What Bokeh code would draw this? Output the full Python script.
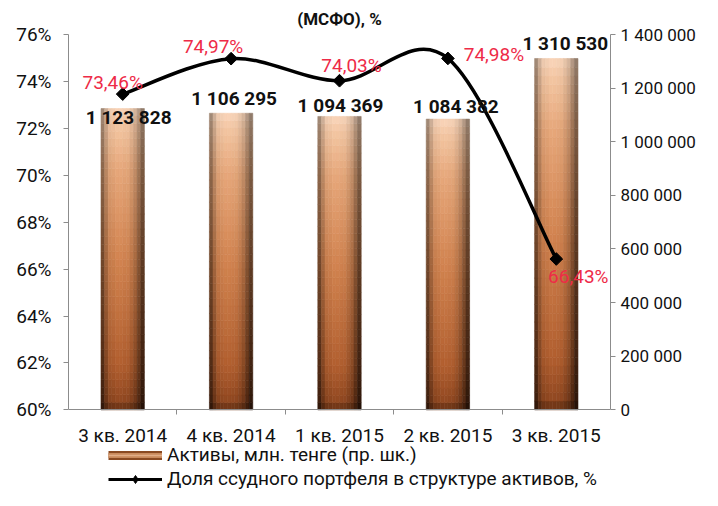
import numpy as np
from bokeh.plotting import figure
from bokeh.models import (Range1d, LinearAxis, FixedTicker, ColumnDataSource,
                          LabelSet, Legend, LegendItem)
from bokeh.embed import file_html
from bokeh.resources import INLINE
from bokeh.core.properties import value

# ---------------- data ----------------
categories = ["3 кв. 2014", "4 кв. 2014", "1 кв. 2015", "2 кв. 2015", "3 кв. 2015"]
assets = [1123828, 1106295, 1094369, 1084382, 1310530]          # right axis
loan_share = [73.46, 74.97, 74.03, 74.98, 66.43]                # left axis, %
left_ticks = [60, 62, 64, 66, 68, 70, 72, 74, 76]
left_tick_labels = ["60%", "62%", "64%", "66%", "68%", "70%", "72%", "74%", "76%"]
right_ticks = [0, 200000, 400000, 600000, 800000, 1000000, 1200000, 1400000]
right_tick_labels = ["0", "200 000", "400 000", "600 000", "800 000",
                     "1 000 000", "1 200 000", "1 400 000"]
title_text = "(МСФО), %"
bar_legend = "Активы, млн. тенге (пр. шк.)"
line_legend = "Доля ссудного портфеля в структуре активов, %"

# ---------------- layout / style constants ----------------
FONT = "Roboto"
W, H = 702, 490
LEFT_PX, RIGHT_PX = 68, 610   # frame left / right edge (px)
TOP = 32                      # frame top (px)
AXIS_Y = 409                  # pixel row of the x axis (60% / 0)
PLOT_PX = AXIS_Y - TOP
LEFT_MIN, LEFT_MAX = 60, 76
RIGHT_MIN, RIGHT_MAX = 0, 1400000
# the frame reaches the bottom of the canvas so the legend can live inside it
left_start = LEFT_MIN - (H - AXIS_Y) * (LEFT_MAX - LEFT_MIN) / PLOT_PX
right_start = RIGHT_MIN - (H - AXIS_Y) * (RIGHT_MAX - RIGHT_MIN) / PLOT_PX

bar_label_dx = [6, 3, 1, 8, 9]
bar_label_dy = [-9, 15, 11, 13, 15]
pct_label_dx = [-10, -18, 12, 46, 22]
pct_label_dy = [12, 12, 15, 4, -17]
BAR_W = 0.4
AXIS_COLOR = "#8c8c8c"

p = figure(width=W, height=H, x_range=Range1d(-0.5, 4.5),
           y_range=Range1d(left_start, LEFT_MAX),
           output_backend="svg", toolbar_location=None,
           min_border_left=LEFT_PX, min_border_right=W - RIGHT_PX,
           min_border_top=TOP, min_border_bottom=0,
           background_fill_color="white", border_fill_color="white", outline_line_color=None)
p.extra_y_ranges = {"right": Range1d(right_start, RIGHT_MAX)}
p.xgrid.visible = False
p.ygrid.visible = False

# title (the visible last line of the source title)
p.title.text = title_text
p.title.align = "center"
p.title.offset = 10
p.title.standoff = 12
p.title.text_font = FONT
p.title.text_font_size = "17px"
p.title.text_font_style = "bold"
p.title.text_color = "#111111"

# x axis, pinned at the 60% line
xa = p.xaxis[0]
xa.fixed_location = LEFT_MIN
xa.ticker = FixedTicker(ticks=list(range(len(categories))),
                        minor_ticks=[i + 0.5 for i in range(len(categories) - 1)])
xa.major_label_overrides = {i: c for i, c in enumerate(categories)}
xa.major_tick_line_color = None
xa.major_tick_in = 0
xa.major_tick_out = 0
xa.minor_tick_in = 0
xa.minor_tick_out = 5
xa.minor_tick_line_color = AXIS_COLOR
xa.axis_line_color = AXIS_COLOR
xa.major_label_text_font = FONT
xa.major_label_text_font_size = "19px"
xa.major_label_text_color = "#111111"
xa.major_label_standoff = 9

# left axis
ya = p.yaxis[0]
ya.bounds = (LEFT_MIN, LEFT_MAX)
ya.ticker = FixedTicker(ticks=left_ticks, minor_ticks=[])
ya.major_label_overrides = {t: l for t, l in zip(left_ticks, left_tick_labels)}
ya.major_tick_in = 0
ya.major_tick_out = 5
ya.major_tick_line_color = AXIS_COLOR
ya.minor_tick_line_color = None
ya.axis_line_color = AXIS_COLOR
ya.major_label_text_font = FONT
ya.major_label_text_font_size = "19px"
ya.major_label_text_color = "#111111"
ya.major_label_standoff = 12

# right axis
ra = LinearAxis(y_range_name="right", ticker=FixedTicker(ticks=right_ticks, minor_ticks=[]),
                bounds=(RIGHT_MIN, RIGHT_MAX))
ra.major_label_overrides = {t: l for t, l in zip(right_ticks, right_tick_labels)}
ra.major_tick_in = 0
ra.major_tick_out = 5
ra.major_tick_line_color = AXIS_COLOR
ra.minor_tick_line_color = None
ra.axis_line_color = AXIS_COLOR
ra.major_label_text_font = FONT
ra.major_label_text_font_size = "17px"
ra.major_label_text_color = "#111111"
ra.major_label_standoff = 5
p.add_layout(ra, "right")

# ---------------- bars with a copper gradient (built from tiles) ----------------
def interp_stops(t, stops):
    ts = [s[0] for s in stops]
    return [np.interp(t, ts, [s[1][ch] for s in stops]) for ch in range(3)]

V_STOPS = [(0.0, (92, 44, 18)), (0.03, (140, 70, 32)), (0.15, (172, 92, 46)),
           (0.5, (204, 128, 78)), (0.8, (225, 164, 120)), (0.95, (238, 194, 160)),
           (1.0, (244, 210, 184))]
H_STOPS = [(0.0, 0.30), (0.07, 0.55), (0.18, 0.95), (0.4, 1.05), (0.65, 1.0),
           (0.8, 0.78), (0.92, 0.45), (1.0, 0.22)]

def shade(u, v):
    base = interp_stops(v, V_STOPS)
    m = np.interp(u, [s[0] for s in H_STOPS], [s[1] for s in H_STOPS])
    m = 1 - (1 - m) * (0.6 + 0.4 * (1 - v))
    r, g, b = [int(max(0, min(255, c * m))) for c in base]
    return "#%02x%02x%02x" % (r, g, b)

NX, NY = 12, 40
L, R, B, T, C = [], [], [], [], []
for i, a in enumerate(assets):
    for j in range(NX):
        for k in range(NY):
            L.append(i - BAR_W / 2 + BAR_W * j / NX)
            R.append(i - BAR_W / 2 + BAR_W * (j + 1) / NX)
            B.append(a * k / NY)
            T.append(a * (k + 1) / NY)
            C.append(shade((j + 0.5) / NX, (k + 0.5) / NY))
p.quad(left=L, right=R, bottom=B, top=T, fill_color=C, line_color=C, line_width=0.6,
       y_range_name="right")

# ---------------- smoothed line (Bezier through the data points) ----------------
xs = list(range(len(loan_share)))
pts = np.array(list(zip(xs, loan_share)), dtype=float)
n = len(pts)
bx0, by0, bx1, by1, cx0, cy0, cx1, cy1 = [], [], [], [], [], [], [], []
for i in range(n - 1):
    p0 = pts[i - 1] if i > 0 else pts[i]
    p1 = pts[i]
    p2 = pts[i + 1]
    p3 = pts[i + 2] if i + 2 < n else pts[i + 1]
    c1 = p1 + (p2 - p0) / 6.0
    c2 = p2 - (p3 - p1) / 6.0
    bx0.append(p1[0]); by0.append(p1[1]); bx1.append(p2[0]); by1.append(p2[1])
    cx0.append(c1[0]); cy0.append(c1[1]); cx1.append(c2[0]); cy1.append(c2[1])
p.bezier(x0=bx0, y0=by0, x1=bx1, y1=by1, cx0=cx0, cy0=cy0, cx1=cx1, cy1=cy1,
         line_color="black", line_width=3.5)
p.scatter(xs, loan_share, marker="square", angle=np.pi / 4, size=9,
          fill_color="black", line_color="black")

# ---------------- data labels ----------------
bar_src = ColumnDataSource(dict(
    x=xs, y=assets, text=[f"{a:,}".replace(",", " ") for a in assets],
    dx=bar_label_dx, dy=bar_label_dy))
p.add_layout(LabelSet(x="x", y="y", text="text", x_offset="dx", y_offset="dy",
                      source=bar_src, y_range_name="right", text_align="center",
                      text_baseline="middle", text_font=value(FONT), text_font_style="bold",
                      text_font_size="19px", text_color="#111111"))

pct_src = ColumnDataSource(dict(
    x=xs, y=loan_share, text=[f"{v:.2f}%".replace(".", ",") for v in loan_share],
    dx=pct_label_dx, dy=pct_label_dy))
p.add_layout(LabelSet(x="x", y="y", text="text", x_offset="dx", y_offset="dy",
                      source=pct_src, text_align="center", text_baseline="middle",
                      text_font=value(FONT), text_font_size="19px", text_color="#ee2b47"))

# ---------------- legend (inside the lower, axis-free part of the frame) ----------------
nan = [float("nan")]
lg1 = p.line(nan, nan, line_color="#8a4a22", line_width=9)
lg2 = p.line(nan, nan, line_color="#c98a5c", line_width=5)
lg3 = p.line(nan, nan, line_color="#e2ae88", line_width=1.5)
ll1 = p.line(nan, nan, line_color="black", line_width=3)
ll2 = p.scatter(nan, nan, marker="diamond", size=12,
                fill_color="black", line_color="black")
legend = Legend(items=[LegendItem(label=bar_legend, renderers=[lg1, lg2, lg3]),
                       LegendItem(label=line_legend, renderers=[ll1, ll2])],
                location=(40, 0), orientation="vertical",
                padding=0, margin=0, spacing=1, glyph_width=54, glyph_height=20,
                label_height=20, label_standoff=5,
                label_text_font=FONT, label_text_font_size="19px",
                label_text_color="#111111",
                border_line_color=None, background_fill_alpha=0)
p.add_layout(legend, "center")

open("out.html", "w").write(file_html(p, INLINE))
